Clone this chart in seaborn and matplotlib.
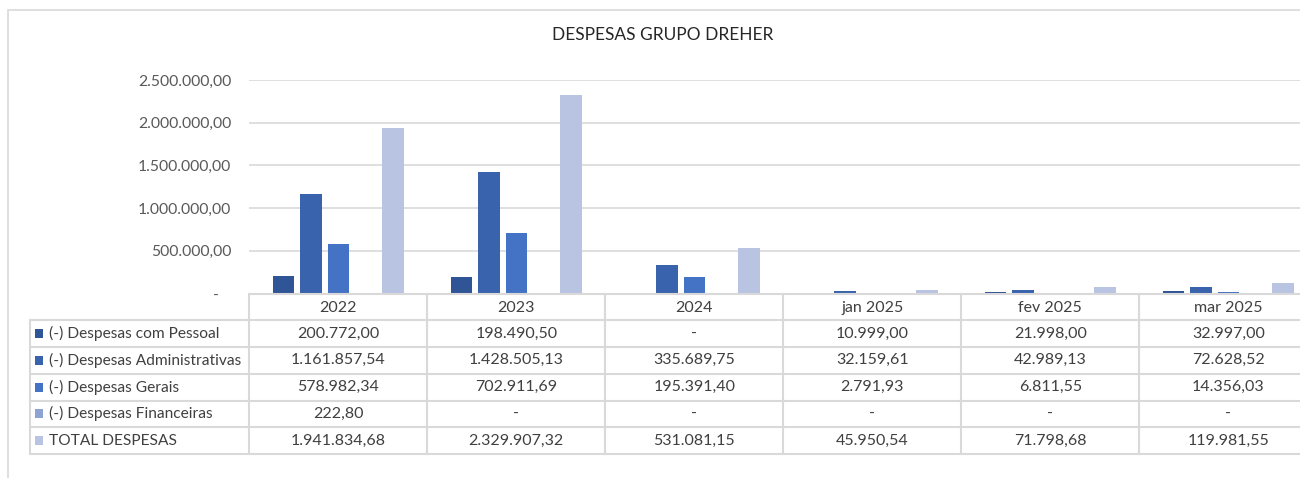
import pandas as pd
import matplotlib
matplotlib.use("Agg")
import matplotlib.pyplot as plt
from matplotlib.patches import Rectangle
import seaborn as sns

# Data (None = "-")
periodos = ["2022", "2023", "2024", "jan 2025", "fev 2025", "mar 2025"]
series = ["(-) Despesas com Pessoal", "(-) Despesas Administrativas",
          "(-) Despesas Gerais", "(-) Despesas Financeiras", "TOTAL DESPESAS"]
pessoal = [200772.00, 198490.50, None, 10999.00, 21998.00, 32997.00]
administrativas = [1161857.54, 1428505.13, 335689.75, 32159.61, 42989.13, 72628.52]
gerais = [578982.34, 702911.69, 195391.40, 2791.93, 6811.55, 14356.03]
financeiras = [222.80, None, None, None, None, None]
total = [1941834.68, 2329907.32, 531081.15, 45950.54, 71798.68, 119981.55]
cores = ["#2f5597", "#3a63ad", "#4472c4", "#8fa2d4", "#b9c3e2"]
y_ticks = [0, 500000, 1000000, 1500000, 2000000, 2500000]

valores = [pessoal, administrativas, gerais, financeiras, total]


def fmt(v):
    if v is None or v == 0:
        return "-"
    s = f"{v:,.2f}"
    return s.replace(",", "X").replace(".", ",").replace("X", ".")


def init():
    rows = []
    for nome, vals in zip(series, valores):
        for p, v in zip(periodos, vals):
            rows.append({"periodo": p, "serie": nome, "valor": 0.0 if v is None else v})
    return pd.DataFrame(rows)


df = init()

sns.set_style("white")
plt.rcParams["font.family"] = ["Lato", "DejaVu Sans"]
texto = "#404040"

W, H = 1300, 478
fig = plt.figure(figsize=(W / 100, H / 100), dpi=100)

# outer chart frame
fig.patches.append(Rectangle((8 / W, -0.1), 1.2, (1 - 10 / H) + 0.1,
                             transform=fig.transFigure, fill=False,
                             edgecolor="#d9d9d9", lw=1.2))

fig.text(663 / W, 1 - 35 / H, "DESPESAS GRUPO DREHER", ha="center", va="center",
         fontsize=12.5, color="#262626")

col_w = 178.0
x0 = 249.3
ax = fig.add_axes([x0 / W, 1 - 293.5 / H, 6 * col_w / W, 213.5 / H])
sns.barplot(data=df, x="periodo", y="valor", hue="serie", hue_order=series,
            palette=cores, saturation=1, width=0.77, gap=0.22, errorbar=None,
            linewidth=0, legend=False, ax=ax)
ax.set_xlim(-0.5, 5.5)
ax.set_ylim(0, 2500000)
ax.set_yticks(y_ticks)
ax.set_yticklabels(["-   "] + [fmt(v) for v in y_ticks[1:]], fontsize=11.3, color="#595959")
ax.tick_params(axis="y", length=0, pad=13)
ax.set_xticks([])
ax.set_xlabel("")
ax.set_ylabel("")
ax.grid(axis="y", color="#d9d9d9", lw=1.2)
ax.set_axisbelow(True)
for s in ax.spines.values():
    s.set_visible(False)

# data table under the plot
left_px = 30
tab = fig.add_axes([left_px / W, 1 - 454 / H, (x0 + 6 * col_w - left_px) / W, (454 - 293.5) / H])
lab_w = (x0 - left_px) / col_w
xl = -0.5 - lab_w
tab.set_xlim(xl, 5.5)
tab.set_ylim(6, 0)
tab.axis("off")
lc = "#d9d9d9"
tab.plot([-0.5, 5.5], [0, 0], color=lc, lw=1.5, clip_on=False)
for r in range(1, 7):
    tab.plot([xl, 5.5], [r, r], color=lc, lw=1.5, clip_on=False)
tab.plot([xl, xl], [1, 6], color=lc, lw=1.5, clip_on=False)
for c in range(7):
    tab.plot([c - 0.5, c - 0.5], [0, 6], color=lc, lw=1.5, clip_on=False)

for i, p in enumerate(periodos):
    tab.text(i, 0.55, p, ha="center", va="center", fontsize=11.5, color=texto)
for r, (nome, vals, cor) in enumerate(zip(series, valores, cores), start=1):
    tab.add_patch(Rectangle((xl + 5 / col_w, r + 0.33), 8.5 / col_w, 0.34,
                            facecolor=cor, edgecolor="none"))
    tab.text(xl + 19 / col_w, r + 0.5, nome, ha="left", va="center",
             fontsize=11.2, color=texto)
    for i, v in enumerate(vals):
        tab.text(i, r + 0.5, fmt(v), ha="center", va="center", fontsize=11.5, color=texto)

plt.savefig("out.png", dpi=100)
